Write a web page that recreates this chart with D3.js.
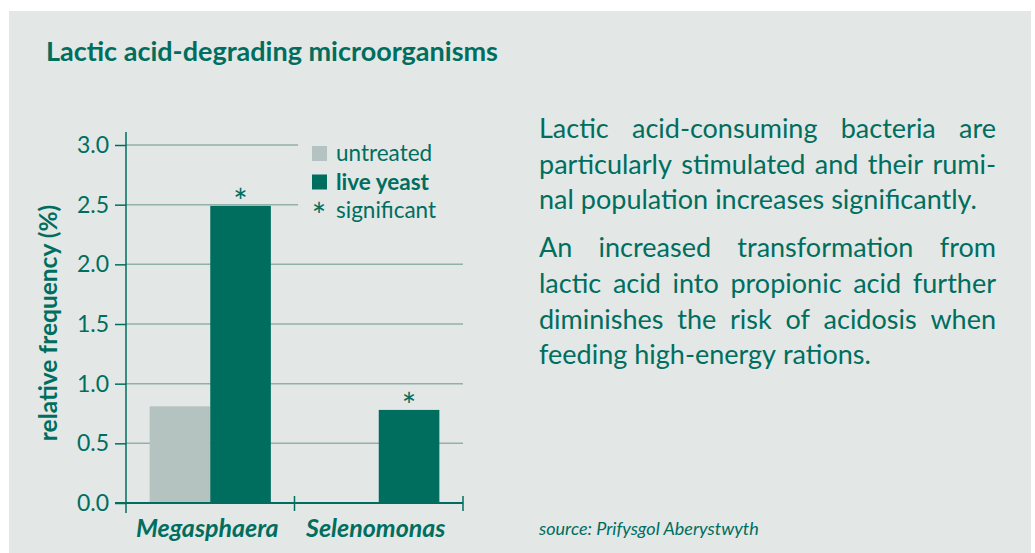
<!DOCTYPE html>
<html>
<head>
<meta charset="utf-8">
<script src="https://cdn.jsdelivr.net/npm/d3@7"></script>
<style>
  body { margin: 0; background: #fff; }
  svg { display: block; font-family: Lato, "Open Sans", sans-serif; }
</style>
</head>
<body>
<svg id="chart" width="1035" height="553"></svg>
<script>
// data
var categories = ["Megasphaera", "Selenomonas"];
var series = ["untreated", "live yeast"];
var untreated = [0.81, null];
var liveYeast = [2.49, 0.78];
var significant = [true, true]; // live yeast bars marked with *
var yTicks = [0.0, 0.5, 1.0, 1.5, 2.0, 2.5, 3.0];

var title = "Lactic acid-degrading microorganisms";
var yLabel = "relative frequency (%)";
var source = "source: Prifysgol Aberystwyth";
var paragraphs = [
    ["Lactic acid-consuming bacteria are",
     "particularly stimulated and their rumi-",
     "nal population increases significantly."],
    ["An increased transformation from",
     "lactic acid into propionic acid further",
     "diminishes the risk of acidosis when",
     "feeding high-energy rations."]
];

var teal = "#006e5f";
var grey = "#b4c3bf";
var gridColor = "#93b1a9";

var svg = d3.select("#chart");

svg.append("rect")
    .attr("x", 9).attr("y", 11)
    .attr("width", 1022).attr("height", 542)
    .style("fill", "#e3e7e6");

svg.append("text")
    .attr("x", 46).attr("y", 61)
    .style("font-size", "27px").style("font-weight", "bold")
    .style("fill", teal)
    .text(title);

// scales
var y = d3.scaleLinear().domain([0, 3]).range([503, 145]);
var x0 = d3.scaleBand().domain(categories).range([126, 463]);
var x1 = d3.scaleBand().domain(series).range([0, x0.bandwidth()]).paddingOuter(0.39);

// grid lines (top two shortened where the legend sits)
svg.selectAll(".grid")
    .data(yTicks.filter(function(t) { return t > 0; }))
    .enter().append("line")
    .attr("x1", 126)
    .attr("x2", function(d) { return d >= 2.5 ? 298 : 463; })
    .attr("y1", function(d) { return y(d); })
    .attr("y2", function(d) { return y(d); })
    .style("stroke", gridColor).style("stroke-width", 1.5);

// bars
var rows = categories.map(function(c, i) {
    return {cat: c, vals: [{s: series[0], v: untreated[i]}, {s: series[1], v: liveYeast[i], sig: significant[i]}]};
});

var groups = svg.selectAll(".group")
    .data(rows)
    .enter().append("g")
    .attr("transform", function(d) { return "translate(" + x0(d.cat) + ",0)"; });

groups.selectAll("rect")
    .data(function(d) { return d.vals.filter(function(e) { return e.v != null; }); })
    .enter().append("rect")
    .attr("x", function(d) { return x1(d.s); })
    .attr("width", x1.bandwidth())
    .attr("y", function(d) { return y(d.v); })
    .attr("height", function(d) { return y(0) - y(d.v); })
    .style("fill", function(d) { return d.s == "untreated" ? grey : teal; });

groups.selectAll(".star")
    .data(function(d) { return d.vals.filter(function(e) { return e.sig; }); })
    .enter().append("text")
    .attr("x", function(d) { return x1(d.s) + x1.bandwidth() / 2; })
    .attr("y", function(d) { return y(d.v) + 8; })
    .attr("text-anchor", "middle")
    .style("font-size", "34px").style("fill", teal)
    .text("*");

// y axis
var yAxis = d3.axisLeft(y).tickValues(yTicks).tickFormat(d3.format(".1f")).tickSize(11).tickPadding(6);
var ya = svg.append("g").attr("transform", "translate(126,0)").call(yAxis);
ya.select(".domain").remove();
ya.selectAll("line").style("stroke", teal).style("stroke-width", 1.5);
ya.selectAll("text").style("font-size", "23px").style("fill", teal).style("font-family", "Lato");
svg.append("line")
    .attr("x1", 126).attr("x2", 126).attr("y1", 132).attr("y2", 513)
    .style("stroke", teal).style("stroke-width", 1.5);

// x axis
svg.append("line")
    .attr("x1", 115).attr("x2", 463).attr("y1", y(0)).attr("y2", y(0))
    .style("stroke", teal).style("stroke-width", 2);
svg.selectAll(".xtick")
    .data(categories)
    .enter().append("line")
    .attr("x1", function(d) { return x0(d) + x0.bandwidth(); })
    .attr("x2", function(d) { return x0(d) + x0.bandwidth(); })
    .attr("y1", y(0) - 7).attr("y2", y(0) + 8)
    .style("stroke", teal).style("stroke-width", 1.5);
svg.selectAll(".xlabel")
    .data(categories)
    .enter().append("text")
    .attr("x", function(d) { return x0(d) + x0.bandwidth() / 2 - 3; })
    .attr("y", 537)
    .attr("text-anchor", "middle")
    .style("font-size", "25px").style("font-weight", "bold").style("font-style", "italic")
    .style("fill", teal)
    .text(function(d) { return d; });

svg.append("text")
    .attr("transform", "translate(57,323) rotate(-90)")
    .attr("text-anchor", "middle")
    .style("font-size", "24.5px").style("font-weight", "bold")
    .style("fill", teal)
    .text(yLabel);

// legend
var legendRows = [
    {label: series[0], color: grey, bold: false},
    {label: series[1], color: teal, bold: true},
    {label: "significant", star: true}
];
var legend = svg.selectAll(".legend")
    .data(legendRows)
    .enter().append("g")
    .attr("transform", function(d, i) { return "translate(312," + (146 + i * 28.5) + ")"; });
legend.filter(function(d) { return !d.star; }).append("rect")
    .attr("width", 15).attr("height", 15)
    .style("fill", function(d) { return d.color; });
legend.filter(function(d) { return d.star; }).append("text")
    .attr("x", 7).attr("y", 25)
    .attr("text-anchor", "middle")
    .style("font-size", "34px").style("fill", teal)
    .text("*");
legend.append("text")
    .attr("x", 24).attr("y", 15)
    .style("font-size", "22.5px")
    .style("font-weight", function(d) { return d.bold ? "bold" : "normal"; })
    .style("fill", teal)
    .text(function(d) { return d.label; });

// justified paragraph text
var textLeft = 539, textRight = 996, lineH = 35.7;
var lineY = 138;
paragraphs.forEach(function(lines, p) {
    lines.forEach(function(line, i) {
        var last = i == lines.length - 1;
        var words = line.split(" ");
        var g = svg.append("g");
        var nodes = words.map(function(w) {
            return g.append("text").attr("y", lineY)
                .style("font-size", "27px").style("fill", teal).text(w);
        });
        var widths = nodes.map(function(n) { return n.node().getComputedTextLength(); });
        var total = d3.sum(widths);
        var space = last ? 7 : (textRight - textLeft - total) / (words.length - 1);
        var cx = textLeft;
        nodes.forEach(function(n, k) {
            n.attr("x", cx);
            cx += widths[k] + space;
        });
        lineY += lineH;
    });
    lineY += 12;
});

svg.append("text")
    .attr("x", 539).attr("y", 535)
    .style("font-size", "18px").style("font-style", "italic")
    .style("fill", teal)
    .text(source);
</script>
</body>
</html>
